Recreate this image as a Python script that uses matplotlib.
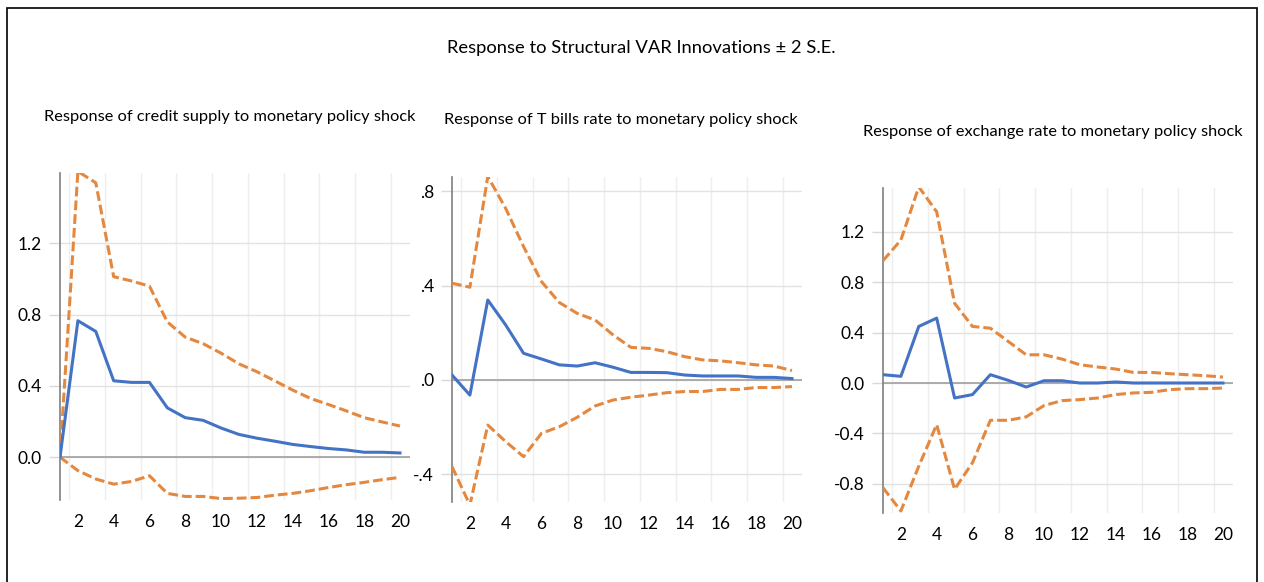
import numpy as np
import matplotlib
matplotlib.use("Agg")
import matplotlib.pyplot as plt
from matplotlib.patches import Rectangle

plt.rcParams['font.family'] = ['Lato', 'DejaVu Sans']

periods = np.arange(1, 21)

# credit supply
credit_resp = [0.0, 0.766, 0.706, 0.429, 0.42, 0.42, 0.277, 0.222, 0.207, 0.164,
               0.128, 0.107, 0.09, 0.072, 0.06, 0.049, 0.041, 0.028, 0.028, 0.024]
credit_up = [0.0, 1.604, 1.54, 1.013, 0.989, 0.96, 0.759, 0.674, 0.637, 0.584,
             0.524, 0.48, 0.429, 0.377, 0.33, 0.296, 0.26, 0.222, 0.198, 0.175]
credit_lo = [0.0, -0.075, -0.122, -0.151, -0.136, -0.104, -0.203, -0.22, -0.22, -0.232,
             -0.23, -0.226, -0.213, -0.203, -0.188, -0.17, -0.154, -0.141, -0.126, -0.113]

# T bills rate
tbill_resp = [0.021, -0.064, 0.339, 0.233, 0.113, 0.089, 0.064, 0.059, 0.073, 0.054,
              0.032, 0.032, 0.031, 0.021, 0.017, 0.017, 0.017, 0.011, 0.011, 0.006]
tbill_up = [0.41, 0.393, 0.862, 0.727, 0.565, 0.417, 0.328, 0.282, 0.254, 0.191,
            0.138, 0.134, 0.12, 0.099, 0.085, 0.081, 0.073, 0.064, 0.059, 0.04]
tbill_lo = [-0.367, -0.53, -0.191, -0.261, -0.325, -0.226, -0.198, -0.158, -0.11, -0.085,
            -0.073, -0.064, -0.054, -0.049, -0.049, -0.04, -0.04, -0.032, -0.032, -0.028]

# exchange rate
exch_resp = [0.066, 0.053, 0.449, 0.515, -0.119, -0.092, 0.066, 0.021, -0.032, 0.018,
             0.018, 0.0, 0.0, 0.008, 0.0, 0.0, 0.0, 0.0, 0.0, 0.0]
exch_up = [0.971, 1.135, 1.557, 1.359, 0.633, 0.449, 0.435, 0.33, 0.224, 0.224,
           0.19, 0.145, 0.127, 0.111, 0.084, 0.084, 0.074, 0.066, 0.058, 0.047]
exch_lo = [-0.831, -1.016, -0.66, -0.33, -0.844, -0.633, -0.296, -0.296, -0.269, -0.179,
           -0.14, -0.132, -0.119, -0.092, -0.079, -0.074, -0.053, -0.045, -0.045, -0.04]

titles = ["Response of credit supply to monetary policy shock",
          "Response of T bills rate to monetary policy shock",
          "Response of exchange rate to monetary policy shock"]
yticks = [[0.0, 0.4, 0.8, 1.2],
          [-0.4, 0.0, 0.4, 0.8],
          [-0.8, -0.4, 0.0, 0.4, 0.8, 1.2]]
ytick_labels = [["0.0", "0.4", "0.8", "1.2"],
                ["-.4", ".0", ".4", ".8"],
                ["-0.8", "-0.4", "0.0", "0.4", "0.8", "1.2"]]
ylims = [(-0.24, 1.595), (-0.517, 0.86), (-1.032, 1.548)]
xticks = [2, 4, 6, 8, 10, 12, 14, 16, 18, 20]

W, H = 1264, 582
fig = plt.figure(figsize=(W / 100, H / 100), dpi=100)

# outer frame, bottom edge runs off the picture
fig.patches.append(Rectangle((7 / W, -0.05), 1250 / W, 1.05 - 8 / H,
                             transform=fig.transFigure, fill=False, edgecolor='black',
                             linewidth=1.2, clip_on=False))

fig.text(641 / W, 1 - 48 / H, "Response to Structural VAR Innovations \u00b1 2 S.E.",
         ha='center', va='center', fontsize=13.2)

# axes boxes in pixels: left, top, bottom
boxes = [(60, 173, 500), (452, 177, 502), (883, 188, 513)]
title_pos = [(230, 117), (621, 120), (1053, 132)]
data = [(credit_resp, credit_up, credit_lo),
        (tbill_resp, tbill_up, tbill_lo),
        (exch_resp, exch_up, exch_lo)]

orange = '#E5883F'
blue = '#4472C4'

for i in range(3):
    l, t, b = boxes[i]
    ax = fig.add_axes([l / W, (H - b) / H, 350 / W, (b - t) / H])
    resp, up, lo = data[i]
    ax.plot(periods, up, color=orange, lw=2.2, dashes=(3.2, 1.3), zorder=3)
    ax.plot(periods, lo, color=orange, lw=2.2, dashes=(3.2, 1.3), zorder=3)
    ax.plot(periods, resp, color=blue, lw=2.2, zorder=4)
    ax.axhline(0, color='#a6a6a6', lw=1.3, zorder=2)

    ax.set_xlim(1, 20.56)
    ax.set_ylim(*ylims[i])
    ax.set_yticks(yticks[i])
    ax.set_yticklabels(ytick_labels[i])
    ax.set_xticks(xticks)
    ax.set_xticks(np.arange(1.5, 20, 2), minor=True)
    ax.grid(True, axis='y', color='#e3e3e3', lw=1)
    ax.grid(True, axis='x', which='minor', color='#eeeeee', lw=1)
    ax.tick_params(axis='y', length=8, color='#d9d9d9', width=1, pad=5, labelsize=12.5)
    ax.tick_params(axis='x', which='major', length=0, pad=10, labelsize=12.5)
    ax.tick_params(axis='x', which='minor', length=0)
    for s in ['top', 'right', 'bottom']:
        ax.spines[s].set_visible(False)
    ax.spines['left'].set_color('#7f7f7f')
    ax.spines['left'].set_linewidth(1.2)
    ax.set_axisbelow(True)

    fig.text(title_pos[i][0] / W, 1 - title_pos[i][1] / H, titles[i],
             ha='center', va='center', fontsize=11.8)

fig.savefig("out.png", dpi=100)
